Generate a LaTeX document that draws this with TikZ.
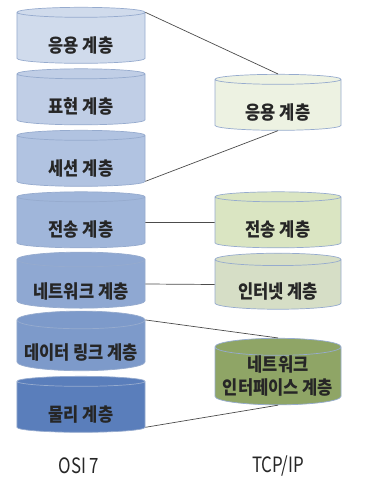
\documentclass[tikz,border=0pt]{standalone}
\usepackage{fontspec}
\setmainfont[FakeStretch=0.88]{Noto Sans CJK KR}
\newfontfamily\capfont[FakeStretch=0.8]{Noto Sans CJK KR}
\usetikzlibrary{shapes.geometric}
\definecolor{edge}{RGB}{150,171,206}
\definecolor{osiA}{RGB}{208,219,236}
\definecolor{osiB}{RGB}{192,206,230}
\definecolor{osiC}{RGB}{177,195,225}
\definecolor{osiD}{RGB}{160,182,218}
\definecolor{osiE}{RGB}{143,168,210}
\definecolor{osiF}{RGB}{125,154,202}
\definecolor{osiG}{RGB}{90,126,187}
\definecolor{tcpA}{RGB}{237,242,226}
\definecolor{tcpB}{RGB}{218,229,194}
\definecolor{tcpC}{RGB}{214,222,198}
\definecolor{tcpD}{RGB}{143,165,102}

\begin{document}
\begin{tikzpicture}[
  x=0.03cm, y=-0.03cm,
  layer/.style={cylinder, shape border rotate=90, aspect=0.155, draw=edge, line width=.6pt, minimum width=3.84cm, minimum height=1.68cm, inner sep=0pt, align=center, text height=26pt, text depth=2pt, font=\bfseries\fontsize{16}{19.6}\selectfont, text=black!85},
  link/.style={draw=black!70, line width=.6pt},
  caption/.style={font=\capfont\fontsize{18}{20}\selectfont, text=black!85}
]
  \useasboundingbox (0,0) rectangle (364,486);

  % OSI 7 stack
  \node[layer, fill=osiA] (osi7) at (81,38) {응용 계층};
  \node[layer, fill=osiB] (osi6) at (81,99.5) {표현 계층};
  \node[layer, fill=osiC] (osi5) at (81,161) {세션 계층};
  \node[layer, fill=osiD] (osi4) at (81,222.5) {전송 계층};
  \node[layer, fill=osiE] (osi3) at (81,284) {네트워크 계층};
  \node[layer, fill=osiF] (osi2) at (81,345.5) {데이터 링크 계층};
  \node[layer, fill=osiG] (osi1) at (81,407) {물리 계층};

  % TCP/IP stack
  \node[layer, fill=tcpA, minimum width=3.78cm] (tcp4) at (278,105) {응용 계층};
  \node[layer, fill=tcpB, minimum width=3.78cm] (tcp3) at (278,222.5) {전송 계층};
  \node[layer, fill=tcpC, minimum width=3.78cm] (tcp2) at (278,284.5) {인터넷 계층};
  \node[layer, fill=tcpD, minimum width=3.78cm, text height={}, text depth={}] (tcp1) at (278,376) {네트워크\\인터페이스 계층};

  \draw[link] (osi7.after top) -- (tcp4.top);
  \draw[link] (osi5.before bottom) -- (tcp4.bottom);
  \draw[link] (osi4.east) -- (tcp3.west);
  \draw[link] (osi3.east) -- (tcp2.west);
  \draw[link] (osi2.after top) -- (tcp1.top);
  \draw[link] (osi1.before bottom) -- (tcp1.bottom);

  \node[caption] (osiname) at (79,466) {OSI 7};
  \node[caption] (tcpname) at (278,466) {TCP/IP};
\end{tikzpicture}
\end{document}
